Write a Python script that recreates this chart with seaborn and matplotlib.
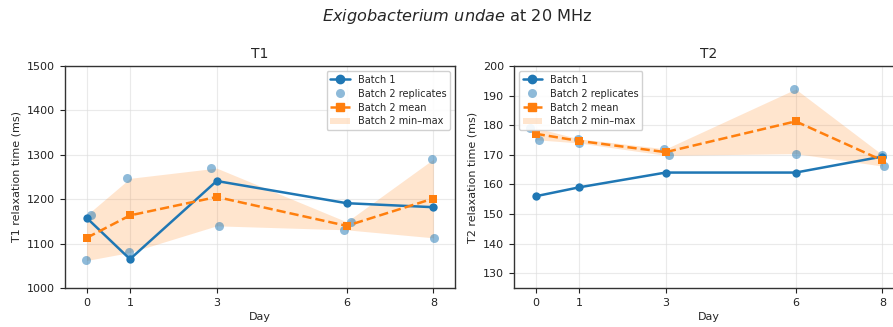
import numpy as np
import pandas as pd
import matplotlib
matplotlib.use("Agg")
import matplotlib.pyplot as plt
import seaborn as sns
from matplotlib.lines import Line2D
from matplotlib.patches import Patch

sns.set_style("ticks")
plt.rcParams["font.family"] = ["DejaVu Sans"]

# Sampling days
days = [0, 1, 3, 6, 8]

# T1 (ms)
t1_batch1 = [1158, 1065, 1241, 1191, 1182]
t1_rep_a = [1062, 1247, 1270, 1131, 1290]
t1_rep_b = [1164, 1080, 1140, 1149, 1113]

# T2 (ms)
t2_batch1 = [156.0, 159.0, 164.0, 164.0, 169.4]
t2_rep_a = [179.1, 175.4, 172.0, 192.2, 170.0]
t2_rep_b = [175.1, 174.0, 169.8, 170.4, 166.2]

# small horizontal offsets so overlapping replicates stay visible
t1_jit_a = [-0.02, -0.06, -0.14, -0.06, -0.02]
t1_jit_b = [0.11, -0.02, 0.05, 0.10, 0.02]
t2_jit_a = [-0.13, -0.02, -0.05, -0.04, -0.01]
t2_jit_b = [0.08, 0.00, 0.07, 0.00, 0.04]

c_b1 = "#1f77b4"
c_b2 = "#ff7f0e"

W, H = 893, 327
fig = plt.figure(figsize=(W / 100, H / 100), dpi=100)
ax1 = fig.add_axes([65 / W, 1 - 288 / H, 390 / W, 222 / H])
ax2 = fig.add_axes([514 / W, 1 - 288 / H, 390 / W, 222 / H])


def draw(ax, b1, ra, rb, ja, jb, title, ylabel, ylim, yticks, legend_loc):
    d = np.array(days, dtype=float)
    reps = np.vstack([ra, rb])
    lo, hi = reps.min(axis=0), reps.max(axis=0)
    mean = reps.mean(axis=0)

    ax.fill_between(d, lo, hi, color=c_b2, alpha=0.2, linewidth=0, zorder=1)
    sns.lineplot(x=d, y=b1, ax=ax, color=c_b1, marker="o", markersize=6,
                 markeredgewidth=0, linewidth=1.8, zorder=3)
    rep_df = pd.DataFrame({
        "day": np.concatenate([d + np.array(ja), d + np.array(jb)]),
        "val": np.concatenate([ra, rb]),
    })
    sns.scatterplot(data=rep_df, x="day", y="val", ax=ax, color=c_b1,
                    alpha=0.5, s=42, linewidth=0, zorder=2)
    sns.lineplot(x=d, y=mean, ax=ax, color=c_b2, marker="s", markersize=6,
                 markeredgewidth=0, linewidth=1.8, linestyle="--", zorder=4)

    ax.set_xlim(-0.5, 8.5)
    ax.set_ylim(*ylim)
    ax.set_xticks(days)
    ax.set_yticks(yticks)
    ax.tick_params(labelsize=8, length=3.5, width=0.8, colors="#222222")
    ax.grid(True, color="#dddddd", alpha=0.6, linewidth=0.8)
    for sp in ax.spines.values():
        sp.set_visible(True)
        sp.set_color("#333333")
        sp.set_linewidth(1.0)
    ax.set_title(title, fontsize=10, pad=6)
    ax.set_xlabel("Day", fontsize=8, labelpad=3)
    ax.set_ylabel(ylabel, fontsize=8, labelpad=4)

    handles = [
        Line2D([], [], color=c_b1, marker="o", markersize=6, linewidth=1.8),
        Line2D([], [], color=c_b1, marker="o", markersize=6.5, alpha=0.5,
               linestyle="none", markeredgewidth=0),
        Line2D([], [], color=c_b2, marker="s", markersize=6, linewidth=1.8,
               linestyle="--"),
        Patch(facecolor=c_b2, alpha=0.2, edgecolor="none"),
    ]
    labels = ["Batch 1", "Batch 2 replicates", "Batch 2 mean", "Batch 2 min\u2013max"]
    ax.legend(handles, labels, loc=legend_loc, fontsize=7, framealpha=0.9,
              handlelength=2.0, borderpad=0.4, labelspacing=0.4)


draw(ax1, t1_batch1, t1_rep_a, t1_rep_b, t1_jit_a, t1_jit_b, "T1",
     "T1 relaxation time (ms)", (1000, 1500), np.arange(1000, 1501, 100),
     "upper right")
draw(ax2, t2_batch1, t2_rep_a, t2_rep_b, t2_jit_a, t2_jit_b, "T2",
     "T2 relaxation time (ms)", (125, 200), np.arange(130, 201, 10),
     "upper left")

fig.text(457 / W, 1 - 17 / H, r"$\it{Exigobacterium\ undae}$ at 20 MHz",
         ha="center", va="center", fontsize=11.6)

fig.savefig("out.png", dpi=100)
